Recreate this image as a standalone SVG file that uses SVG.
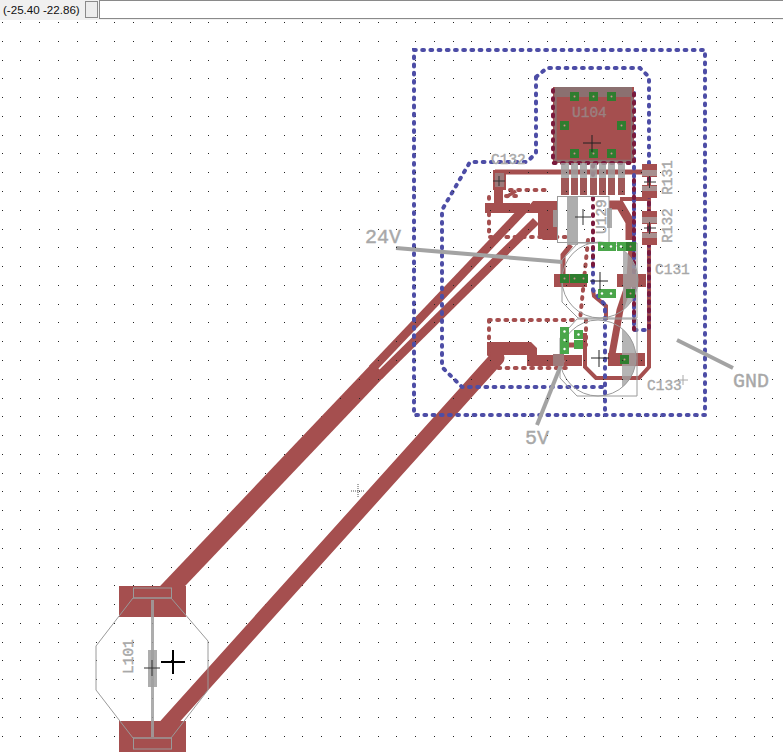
<svg xmlns="http://www.w3.org/2000/svg" width="783" height="755" viewBox="0 0 783 755">
<style>
.tr{fill:none;stroke:#a54f4f;stroke-linejoin:miter}
.fill{fill:#a54f4f}
.dotb{fill:none;stroke:#4d4da6;stroke-width:4;stroke-linecap:round;stroke-dasharray:1.8 6.4}
.dotr{fill:none;stroke:#a54f4f;stroke-width:4;stroke-linecap:round;stroke-dasharray:1.8 6.4}
.dotd{fill:none;stroke:#7a1a3c;stroke-width:4;stroke-linecap:round;stroke-dasharray:1.8 6.4}
.g{fill:#9f9f9f;fill-opacity:.85}
.gl{fill:none;stroke:#a3a3a3;stroke-width:4}
.o{fill:none;stroke:#9a9a9a;stroke-width:1}
.gd{fill:#2f7d2f}
.gr{fill:#4aa64a}
.x{fill:none;stroke:#333;stroke-width:1}
.lb{font-family:"Liberation Mono",monospace;fill:#a8a8a8;stroke:#a8a8a8;stroke-width:.4;font-size:14.5px}
.lg{font-size:20px}
.grid{fill:none;stroke:#222;stroke-width:1;stroke-dasharray:1 17.8;shape-rendering:crispEdges}
.dv{fill:#fff}
.pv{fill:#d09090}
</style>
<defs>
<path id="gridp" class="grid" d="M1.500 22.500H783M1.500 41.500H783M1.500 60.500H783M1.500 78.500H783M1.500 97.500H783M1.500 116.500H783M1.500 135.500H783M1.500 153.500H783M1.500 172.500H783M1.500 191.500H783M1.500 210.500H783M1.500 229.500H783M1.500 247.500H783M1.500 266.500H783M1.500 285.500H783M1.500 304.500H783M1.500 322.500H783M1.500 341.500H783M1.500 360.500H783M1.500 379.500H783M1.500 398.500H783M1.500 416.500H783M1.500 435.500H783M1.500 454.500H783M1.500 473.500H783M1.500 491.500H783M1.500 510.500H783M1.500 529.500H783M1.500 548.500H783M1.500 567.500H783M1.500 585.500H783M1.500 604.500H783M1.500 623.500H783M1.500 642.500H783M1.500 660.500H783M1.500 679.500H783M1.500 698.500H783M1.500 717.500H783M1.500 736.500H783"/>
<clipPath id="cluster"><rect x="300" y="160" width="360" height="240"/></clipPath>
</defs>
<rect width="783" height="755" fill="#fff"/>
<use href="#gridp"/>
<g id="toolbar">
<rect width="783" height="20" fill="#f0f0f0"/>
<text x="3" y="14" font-family="Liberation Sans, sans-serif" font-size="11.600" fill="#111">(-25.40 -22.86)</text>
<rect x="85.500" y="1.500" width="12" height="16" fill="#ececec" stroke="#8a8a8a"/>
<rect x="99.500" y="0.500" width="684" height="18" fill="#fff" stroke="#8a8a8a"/>
</g>
<g id="connectors">
<path class="tr" stroke-width="18" d="M165 594L379 369"/>
<path class="tr" stroke-width="8.500" d="M372 369L527 206"/>
<path class="tr" stroke-width="8.500" d="M379 376L536 221"/>
<path class="tr" stroke-width="15" stroke-linecap="round" d="M165 727L497 358"/>
<path class="fill" d="M487 342H531L537 348V355H582V366H527V355H487Z"/>
<path class="tr" stroke-width="5" d="M495 172H650"/>
<path class="tr" stroke-width="9" d="M498.500 185V206"/>
<path class="tr" stroke-width="10" d="M485 208H530"/>
<path class="tr" stroke-width="3.500" d="M506 197L516 191"/>
<path class="fill" d="M527 208L533 201H557V240H543L538 235V213H527Z"/>
<path class="tr" stroke-width="9" d="M609 205H620L630 222V240"/>
<path class="tr" stroke-width="4" d="M651 199H620"/>
<path class="tr" stroke-width="4" d="M649 180V367L639 378H596L585 367V333"/>
<path class="tr" stroke-width="7" d="M611 360L620 310L630 280L632 245"/>
<path class="tr" stroke-width="5" d="M571 245L563 255V279"/>
<path class="tr" stroke-width="4" d="M593 290L594 296L606 306V320"/>
<path class="tr" stroke-width="5" d="M569 345H582"/>
<path class="dotb" d="M414 50H705V415H414Z"/>
<path class="dotb" d="M536 77L547 68H640L649 77V330H634V88M536 77V153L527 162H470L442 210V367L462 387H603M593 240V290L605 305V415"/>
<path class="dotr" d="M510 190H550M489 197V237H567M506 196H516"/>
<path class="dotr" d="M489 320H575M489 320V368H572M586 320V345M588 240L580 320"/>
<path class="dotd" d="M649 170V330M593 165V265M634 180V330"/>
<path class="gl" d="M396 248L562 262"/>
<path class="gl" d="M537 425L563 360"/>
<path class="gl" d="M677 340L733 368"/>
</g>
<g id="L101">
<rect class="fill" x="119" y="586" width="67" height="31"/>
<rect class="fill" x="119" y="721" width="67" height="31"/>
<path class="o" d="M133 598H171L208 641V690L171 738H133L96 690V646Z"/>
<rect class="o" x="133.500" y="588" width="38" height="10"/>
<rect class="o" x="133.500" y="738" width="38" height="11"/>
<rect class="g" x="151" y="600" width="3" height="137"/>
<rect class="g" x="148" y="650" width="9" height="37"/>
<path d="M161 662H185M173 650V674" fill="none" stroke="#000" stroke-width="2"/>
<path class="x" d="M144 668H160M152 660V676"/>
<text class="lb" transform="translate(133 674) rotate(-90)">L101</text>
</g>
<g id="U104">
<rect x="553" y="87" width="81" height="76" fill="#a54f4f"/>
<path d="M555.500 97V88M632 97V161H555.500V97" fill="none" stroke="#8b7070" stroke-width="2.500"/>
<rect x="555" y="87" width="77" height="10" fill="#8b7070"/>
<path class="dotd" d="M553 90V163H634V90"/>
<g class="g"><rect x="561" y="163" width="8" height="15"/><rect x="571" y="163" width="7" height="15"/><rect x="580" y="163" width="7" height="15"/><rect x="590" y="163" width="7" height="15"/><rect x="599" y="163" width="7" height="15"/><rect x="608" y="163" width="7" height="15"/><rect x="618" y="163" width="7" height="15"/></g>
<g fill="#a05858"><rect x="561" y="178" width="8" height="17"/><rect x="571" y="178" width="7" height="17"/><rect x="580" y="178" width="7" height="17"/><rect x="590" y="178" width="7" height="17"/><rect x="599" y="178" width="7" height="17"/><rect x="608" y="178" width="7" height="17"/><rect x="618" y="178" width="7" height="17"/></g>
<g class="gd"><rect x="570" y="92" width="9" height="9"/><rect x="589" y="92" width="9" height="9"/><rect x="607" y="92" width="9" height="9"/><rect x="560" y="121" width="9" height="9"/><rect x="617" y="121" width="9" height="9"/><rect x="570" y="149" width="9" height="9"/><rect x="589" y="149" width="9" height="9"/><rect x="607" y="149" width="9" height="9"/></g>
<g class="pv"><circle cx="574.500" cy="96.500" r="1"/><circle cx="593.500" cy="96.500" r="1"/><circle cx="611.500" cy="96.500" r="1"/><circle cx="564.500" cy="125.500" r="1"/><circle cx="621.500" cy="125.500" r="1"/><circle cx="574.500" cy="153.500" r="1"/><circle cx="593.500" cy="153.500" r="1"/><circle cx="611.500" cy="153.500" r="1"/></g>
<text class="lb" x="572" y="117" style="fill:#9a8080;stroke:#9a8080">U104</text>
<path d="M583 143H601M592 135V152" fill="none" stroke="#222" stroke-width="1"/>
</g>
<g id="C132">
<rect class="fill" x="493" y="170" width="13" height="20"/>
<rect x="495" y="173" width="9" height="14" fill="#9c7a7a"/>
<path class="x" d="M493 181H505M499 176V186"/>
<text class="lb" x="491" y="164">C132</text>
</g>
<g id="U129">
<rect class="g" x="553" y="210" width="5" height="17" fill-opacity=".7"/>
<rect class="g" x="607" y="208" width="5" height="20" fill-opacity=".6"/>
<rect class="o" x="557.500" y="196.500" width="51.500" height="46"/>
<rect class="g" x="567" y="196" width="11" height="49"/>
<path class="x" d="M575 217H591M583 209V225"/>
<text class="lb" transform="translate(606 234) rotate(-90)">U129</text>
</g>
<g id="R131">
<rect class="fill" x="642" y="164" width="15" height="13"/>
<rect class="fill" x="642" y="185" width="15" height="13"/>
<rect x="642" y="170" width="15" height="6" fill="#a89090"/><rect x="642" y="186" width="15" height="5" fill="#a89090"/>
<path class="x" d="M644 182H656M649.500 176V188"/>
<text class="lb" transform="translate(672 195) rotate(-90)">R131</text>
</g>
<g id="R132">
<rect class="fill" x="642" y="211" width="15" height="13"/>
<rect class="fill" x="642" y="232" width="15" height="13"/>
<rect x="642" y="217" width="15" height="6" fill="#a89090"/><rect x="642" y="233" width="15" height="5" fill="#a89090"/>
<path class="x" d="M644 228H656M649.500 222V234"/>
<text class="lb" transform="translate(672 243) rotate(-90)">R132</text>
</g>
<g id="C131">
<rect class="fill" x="554" y="274" width="33" height="13"/>
<rect class="fill" x="617" y="274" width="29" height="13"/>
<path d="M623 250A38 38 0 0 1 623 310Z" fill="#a3a3a3" fill-opacity=".8"/>
<circle class="o" cx="600" cy="280" r="38"/>
<path class="o" d="M578 243H637V318H578L562 302V260Z"/>
<g class="gr"><rect x="598" y="242" width="18" height="9"/><rect x="617" y="242" width="19" height="9"/><rect x="598" y="289" width="18" height="9"/></g>
<g class="gd"><rect x="560" y="274" width="9" height="9"/><rect x="570" y="274" width="9" height="9"/><rect x="579" y="274" width="9" height="9"/><rect x="626" y="289" width="9" height="9"/><rect x="626" y="242" width="10" height="9"/></g>
<g class="dv"><circle cx="602" cy="246.500" r="1.200"/><circle cx="611" cy="246.500" r="1.200"/><circle cx="621" cy="246.500" r="1.200"/><circle cx="602" cy="293.500" r="1.200"/><circle cx="611" cy="293.500" r="1.200"/></g>
<g class="pv"><circle cx="564.500" cy="278.500" r="1"/><circle cx="574.500" cy="278.500" r="1"/><circle cx="583.500" cy="278.500" r="1"/><circle cx="630.500" cy="246.500" r="1"/><circle cx="630.500" cy="293.500" r="1"/></g>
<path d="M590 281H608M600 272V290" fill="none" stroke="#222"/>
<text class="lb" x="655" y="274">C131</text>
</g>
<g id="C133">
<rect class="fill" x="608" y="353" width="37" height="13"/>
<path d="M622 328.500A38 38 0 0 1 622 387.500Z" fill="#a3a3a3" fill-opacity=".8"/>
<circle class="o" cx="598" cy="358" r="38"/>
<path class="o" d="M577 319H637V396H577L560 378V338Z"/>
<rect class="gd" x="620" y="355" width="9" height="9"/>
<rect x="553" y="354" width="11" height="12" fill="#9c7a7a"/>
<g class="gr"><rect x="560" y="327" width="9" height="27"/><rect x="574" y="330" width="9" height="9"/><rect x="574" y="340" width="9" height="9"/></g>
<g class="dv"><circle cx="564.500" cy="331.500" r="1.200"/><circle cx="564.500" cy="340" r="1.200"/><circle cx="564.500" cy="349" r="1.200"/><circle cx="578.500" cy="334.500" r="1.200"/></g>
<circle class="pv" cx="624.500" cy="359.500" r="1"/>
<path d="M591 358H609M599 350V367" fill="none" stroke="#222"/>
<text class="lb" x="647" y="390">C133</text>
<path d="M678 380H688M683 375V385" fill="none" stroke="#a8a8a8"/>
</g>
<g id="labels">
<text class="lb lg" x="365" y="243">24V</text>
<text class="lb lg" x="525" y="444">5V</text>
<text class="lb lg" x="733" y="387">GND</text>
<path d="M358 484V498M351 491H365" fill="none" stroke="#555" stroke-dasharray="1 1"/>
</g>
<use href="#gridp" clip-path="url(#cluster)"/>
</svg>
